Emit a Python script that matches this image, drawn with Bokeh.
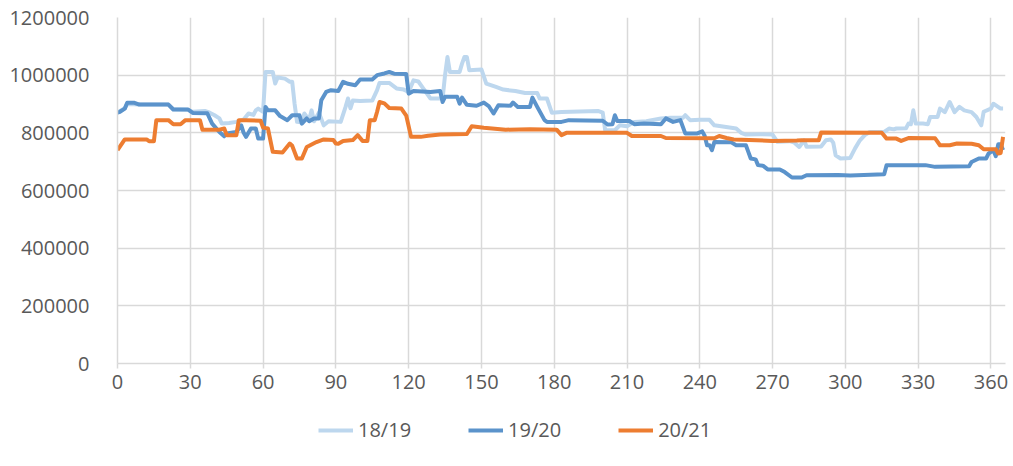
from bokeh.plotting import figure
from bokeh.layouts import column
from bokeh.models import Range1d, FixedTicker, NumeralTickFormatter, Legend, LegendItem
from bokeh.embed import file_html
from bokeh.resources import INLINE

# ---- data (day of season, value) ----
days_1819 = [0, 3, 4, 9, 21, 23, 29, 31, 36, 38, 40, 42, 43, 46, 49, 52, 54, 56, 57, 58, 60, 61, 64, 65, 66, 69, 71, 72, 73, 74, 76, 77, 79, 80, 81, 83, 85, 87, 92, 94, 95, 96, 97, 100, 105, 107, 108, 112, 115, 118, 120, 122, 124, 126, 129, 134, 135, 136, 137, 141, 142, 143, 144, 145, 150, 152, 156, 159, 164, 168, 173, 174, 177, 179, 183, 198, 200, 201, 205, 207, 210, 213, 218, 224, 228, 233, 234, 236, 240, 244, 246, 255, 257, 259, 265, 270, 272, 277, 279, 281, 283, 284, 290, 292, 294, 295, 296, 298, 302, 304, 306, 308, 310, 316, 318, 320, 321, 325, 326, 327, 328, 329, 332, 334, 335, 338, 339, 341, 343, 345, 347, 349, 352, 354, 356, 357, 360, 361, 364, 365]
vals_1819 = [870000, 885000, 900000, 898000, 898000, 882000, 880000, 873000, 876000, 870000, 861000, 850000, 832000, 834000, 838000, 846000, 867000, 862000, 878000, 884000, 873000, 1011000, 1011000, 971000, 992000, 988000, 977000, 977000, 900000, 838000, 836000, 867000, 845000, 878000, 840000, 870000, 826000, 840000, 838000, 890000, 919000, 885000, 912000, 910000, 912000, 948000, 973000, 973000, 954000, 950000, 942000, 982000, 978000, 954000, 919000, 919000, 1000000, 1063000, 1011000, 1011000, 1040000, 1063000, 1063000, 1017000, 1020000, 971000, 959000, 950000, 945000, 938000, 938000, 919000, 919000, 870000, 872000, 876000, 870000, 809000, 809000, 826000, 823000, 838000, 840000, 850000, 852000, 852000, 861000, 844000, 845000, 845000, 826000, 815000, 800000, 794000, 795000, 794000, 769000, 771000, 766000, 751000, 774000, 752000, 753000, 774000, 777000, 766000, 722000, 711000, 713000, 746000, 774000, 792000, 803000, 803000, 815000, 812000, 815000, 816000, 832000, 830000, 878000, 832000, 832000, 830000, 855000, 855000, 884000, 872000, 907000, 872000, 890000, 878000, 872000, 855000, 826000, 873000, 884000, 901000, 884000, 884000]

days_1920 = [0, 1, 3, 4, 7, 9, 21, 23, 29, 31, 37, 39, 42, 44, 45, 49, 51, 52, 53, 55, 57, 58, 60, 61, 62, 65, 67, 70, 72, 75, 76, 78, 79, 81, 83, 84, 86, 88, 91, 93, 95, 98, 100, 105, 107, 110, 112, 114, 119, 120, 122, 129, 133, 134, 135, 140, 141, 142, 144, 148, 151, 153, 155, 157, 162, 163, 165, 170, 171, 173, 176, 177, 183, 186, 200, 202, 204, 205, 206, 211, 213, 217, 224, 226, 229, 232, 234, 239, 241, 242, 243, 244, 245, 246, 253, 255, 259, 260, 261, 263, 264, 266, 268, 273, 275, 278, 282, 284, 297, 302, 316, 317, 333, 337, 351, 352, 355, 358, 359, 361, 362, 363, 364, 365]
vals_1920 = [870000, 873000, 884000, 904000, 904000, 898000, 898000, 881000, 881000, 869000, 868000, 832000, 803000, 788000, 798000, 803000, 826000, 800000, 786000, 815000, 815000, 780000, 780000, 890000, 878000, 878000, 858000, 844000, 861000, 861000, 832000, 850000, 840000, 850000, 850000, 913000, 942000, 948000, 945000, 977000, 970000, 965000, 985000, 985000, 1000000, 1006000, 1011000, 1005000, 1004000, 936000, 945000, 942000, 945000, 907000, 925000, 925000, 901000, 922000, 897000, 894000, 905000, 893000, 867000, 896000, 894000, 905000, 890000, 890000, 922000, 890000, 844000, 838000, 838000, 844000, 842000, 829000, 830000, 861000, 841000, 841000, 830000, 832000, 830000, 850000, 838000, 844000, 798000, 798000, 805000, 790000, 757000, 757000, 740000, 768000, 767000, 757000, 757000, 734000, 711000, 708000, 688000, 686000, 673000, 673000, 664000, 645000, 645000, 653000, 654000, 652000, 656000, 688000, 688000, 682000, 684000, 699000, 711000, 711000, 728000, 740000, 719000, 760000, 760000, 740000]

days_2021 = [0, 3, 12, 13, 15, 16, 21, 23, 26, 28, 34, 35, 42, 44, 45, 49, 50, 53, 59, 60, 62, 64, 68, 71, 72, 74, 76, 78, 79, 82, 85, 89, 90, 91, 93, 97, 99, 101, 103, 104, 106, 107, 108, 110, 112, 117, 119, 121, 125, 128, 133, 144, 146, 151, 160, 170, 181, 183, 185, 210, 212, 224, 226, 246, 248, 251, 254, 270, 280, 282, 289, 290, 315, 317, 321, 323, 326, 337, 339, 343, 346, 352, 355, 357, 362, 363, 364, 365]
vals_2021 = [740000, 777000, 777000, 771000, 771000, 844000, 844000, 830000, 830000, 844000, 844000, 811000, 811000, 815000, 792000, 792000, 844000, 844000, 842000, 818000, 815000, 734000, 732000, 763000, 755000, 711000, 711000, 751000, 755000, 768000, 777000, 775000, 763000, 762000, 772000, 775000, 792000, 772000, 772000, 844000, 844000, 873000, 907000, 902000, 886000, 884000, 860000, 786000, 786000, 790000, 794000, 796000, 823000, 818000, 811000, 812000, 811000, 792000, 800000, 800000, 789000, 789000, 782000, 781000, 789000, 782000, 777000, 772000, 773000, 774000, 774000, 801000, 800000, 780000, 780000, 772000, 782000, 781000, 757000, 757000, 763000, 762000, 757000, 743000, 743000, 728000, 730000, 786000]

series_names = ["18/19", "19/20", "20/21"]
series_colors = ["#BDD7EE", "#5B93CB", "#ED7D31"]
series_days = [days_1819, days_1920, days_2021]
series_vals = [vals_1819, vals_1920, vals_2021]
x_ticks = [0, 30, 60, 90, 120, 150, 180, 210, 240, 270, 300, 330, 360]
y_ticks = [0, 200000, 400000, 600000, 800000, 1000000, 1200000]

FONT = "Open Sans"
GRID = "#d9d9d9"
TXT = "#595959"

p = figure(frame_width=888, frame_height=346, output_backend="svg", toolbar_location=None,
           x_range=Range1d(0, 366), y_range=Range1d(0, 1200000),
           min_border_left=117, min_border_right=5, min_border_top=17, min_border_bottom=45)
p.outline_line_color = None

for d, v, col in zip(series_days, series_vals, series_colors):
    p.line(d, v, line_color=col, line_width=4, line_join="round")

p.xaxis.ticker = FixedTicker(ticks=x_ticks)
p.yaxis.ticker = FixedTicker(ticks=y_ticks)
p.yaxis.formatter = NumeralTickFormatter(format="0")

for ax in (p.xaxis[0], p.yaxis[0]):
    ax.axis_line_color = GRID
    ax.axis_line_width = 1.5
    ax.major_label_text_font = FONT
    ax.major_label_text_font_size = "20px"
    ax.major_label_text_color = TXT
    ax.minor_tick_line_color = None

p.xaxis.major_tick_line_color = GRID
p.xaxis.major_tick_line_width = 1.5
p.xaxis.major_tick_in = 0
p.xaxis.major_tick_out = 5
p.xaxis.major_label_standoff = 6
p.yaxis.major_tick_line_color = None
p.yaxis.major_label_standoff = 22

p.xgrid.grid_line_color = GRID
p.ygrid.grid_line_color = GRID
p.xgrid.grid_line_width = 1.5
p.ygrid.grid_line_width = 1.5

# ---- legend strip below the chart (its series lie outside its own range) ----
pl = figure(width=1010, height=50, output_backend="svg", toolbar_location=None,
            x_range=Range1d(0, 1), y_range=Range1d(0, 1),
            min_border_left=0, min_border_right=0, min_border_top=0, min_border_bottom=0)
pl.axis.visible = False
pl.grid.visible = False
pl.outline_line_color = None
items = []
for name, d, v, col in zip(series_names, series_days, series_vals, series_colors):
    rr = pl.line(d, v, line_color=col, line_width=4)
    items.append(LegendItem(label=name, renderers=[rr]))

legend = Legend(items=items, orientation="horizontal", location=(201, 15))
legend.label_text_font = FONT
legend.label_text_font_size = "20px"
legend.label_text_color = TXT
legend.glyph_width = 35
legend.label_standoff = 5
legend.spacing = 57
legend.border_line_color = None
legend.background_fill_alpha = 0
legend.margin = 0
legend.padding = 0
pl.add_layout(legend)

layout = column(p, pl, spacing=0)
open("out.html", "w").write(file_html(layout, INLINE))
